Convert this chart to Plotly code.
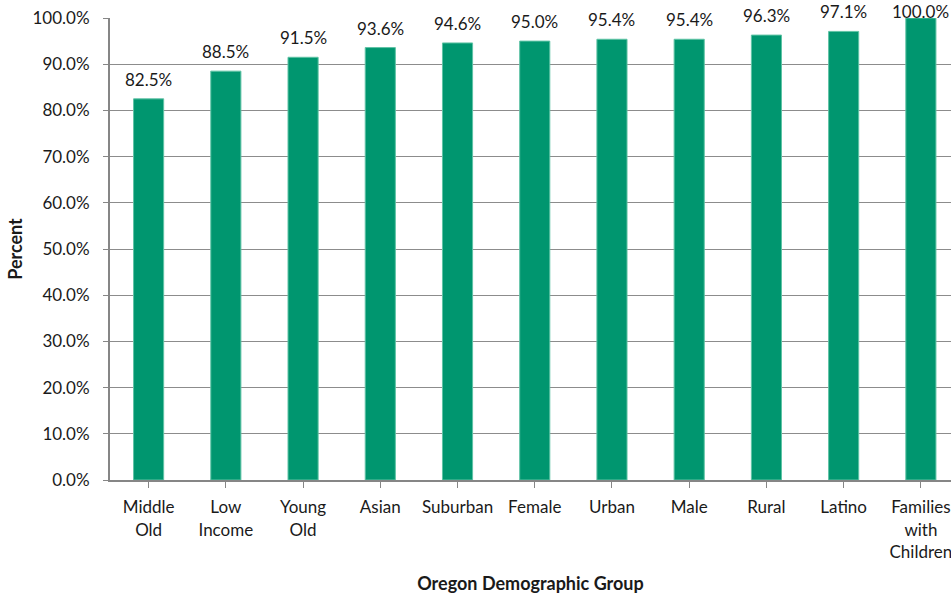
import plotly.graph_objects as go

categories = ["Middle<br>Old", "Low<br>Income", "Young<br>Old", "Asian", "Suburban", "Female",
              "Urban", "Male", "Rural", "Latino", "Families<br>with<br>Children"]
values = [82.5, 88.5, 91.5, 93.6, 94.6, 95.0, 95.4, 95.4, 96.3, 97.1, 100.0]
y_ticks = [0, 10, 20, 30, 40, 50, 60, 70, 80, 90, 100]
y_tick_labels = [f"{v:.1f}%" for v in y_ticks]
bar_labels = [f"{v:.1f}%" for v in values]

FONT = "Lato, 'Open Sans', sans-serif"
GREEN = "#00966F"
TXT = "#1a1a1a"

W, H = 951, 594
M_L, M_R, M_T, M_B = 110, 0, 18, 114
Y_MAX = 100
plot_h = H - M_T - M_B

x_idx = list(range(len(categories)))

fig = go.Figure(go.Bar(
    x=x_idx,
    y=values,
    width=0.39,
    marker=dict(color=GREEN, line=dict(color="#5fc3a5", width=1)),
    cliponaxis=False,
    hoverinfo="skip",
))

# data labels above bars, kept inside the chart area (as the source chart does)
for xi, v, lab in zip(x_idx, values, bar_labels):
    bar_top_px = M_T + (Y_MAX - v) / Y_MAX * plot_h
    shift = min(7, bar_top_px - 24)
    fig.add_annotation(x=xi, y=v, text=lab, showarrow=False, yanchor="bottom",
                       yshift=shift, font=dict(family=FONT, size=17, color=TXT))

fig.update_layout(
    width=W, height=H,
    margin=dict(l=M_L, r=M_R, t=M_T, b=M_B, autoexpand=False),
    plot_bgcolor="white", paper_bgcolor="white",
    showlegend=False,
    font=dict(family=FONT, size=17, color=TXT),
)
fig.update_xaxes(
    range=[-0.5, 10.39],
    tickmode="array",
    tickvals=x_idx,
    ticktext=categories,
    tickson="boundaries",
    ticks="outside", ticklen=6, tickcolor="#868686",
    ticklabelstandoff=5,
    ticklabeloverflow="allow",
    automargin=False,
    showline=True, linecolor="#868686", linewidth=2,
    showgrid=False,
    tickfont=dict(family=FONT, size=17, color=TXT),
    title=dict(text="<b>Oregon Demographic Group</b>", font=dict(family=FONT, size=18, color=TXT), standoff=25),
)
fig.update_yaxes(
    range=[0, Y_MAX],
    tickmode="array",
    tickvals=y_ticks,
    ticktext=y_tick_labels,
    ticks="outside", ticklen=5, tickcolor="#868686",
    ticklabelstandoff=10,
    automargin=False,
    showline=True, linecolor="#868686", linewidth=2,
    showgrid=True, gridcolor="#8c8c8c", gridwidth=1,
    zeroline=False,
    tickfont=dict(family=FONT, size=17, color=TXT),
    title=dict(text="<b>Percent</b>", font=dict(family=FONT, size=18, color=TXT), standoff=5),
)

fig.write_html("out.html", config={"displayModeBar": False},
               post_script="document.body.style.margin='0px';")
